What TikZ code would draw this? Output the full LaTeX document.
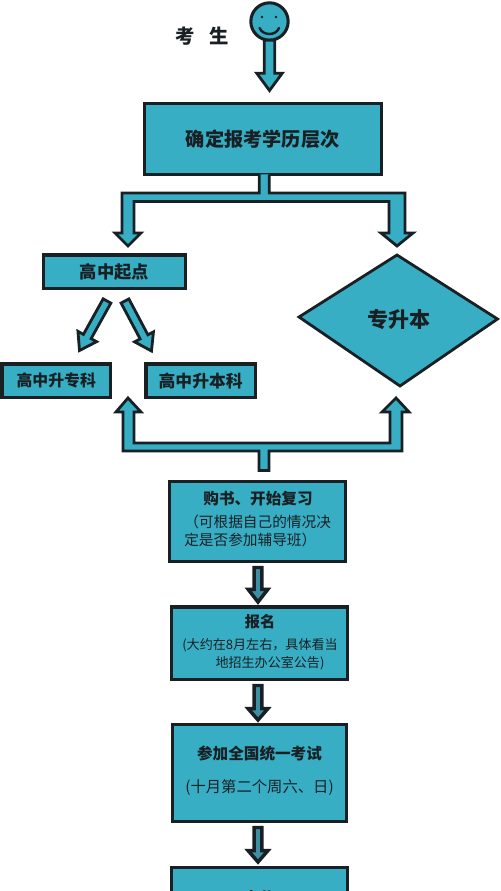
\documentclass[tikz,border=0pt]{standalone}
\usepackage{fontspec}
\usetikzlibrary{calc,shapes.geometric}
\setmainfont{Noto Sans CJK SC}
\definecolor{teal1}{RGB}{56,174,197}
\definecolor{teal2}{RGB}{62,143,163}
\definecolor{ink}{RGB}{24,32,36}
\tikzset{
  x=0.75pt,y=-0.75pt,
  boxshape/.style={draw=ink,line width=2.3pt,fill=teal1,text=ink,inner sep=0pt,outer sep=0pt,align=center,anchor=north west},
  shape line/.style={draw=ink,line width=2.1pt,fill=teal1,line join=miter},
  thick arrow/.style={draw=ink,line width=2.6pt,fill=teal2,line join=miter},
  inktext/.style={text=ink,inner sep=0pt},
}
% block arrow from coordinate #2 to coordinate #3; #4 half stem, #5 half head, #6 head length (pt)
\newcommand\blockarrow[6][shape line]{%
  \coordinate (ba) at ($(#3)!#6!(#2)$);
  \draw[#1] ($(#2)!#4!90:(#3)$) -- ($(ba)!#4!90:(#3)$) -- ($(ba)!#5!90:(#3)$) -- (#3)
    -- ($(ba)!#5!-90:(#3)$) -- ($(ba)!#4!-90:(#3)$) -- ($(#2)!#4!-90:(#3)$) -- cycle;
}
\begin{document}
\begin{tikzpicture}
\clip (0,0) rectangle (500,891);
\fill[white] (0,0) rectangle (500,891);

% smiley
\node[circle,minimum size=28pt,inner sep=0pt,outer sep=0pt,draw=ink,line width=2.3pt,fill=teal1] (face) at (269.5,21.5) {};
\fill[ink] (262,17) circle (1.1pt) (276,17) circle (1.1pt);
\draw[ink,line width=1.8pt,line cap=round] (259.5,28) .. controls (263,36) and (276,36) .. (279,28);
\node[inktext,font=\bfseries\fontsize{14.5pt}{16pt}\selectfont] (who) at (202,36) {考\hspace{0.75em}生};

% boxes
\node[boxshape,minimum width=177.4pt,minimum height=53.25pt,font=\bfseries\fontsize{14.4pt}{17pt}\selectfont] (level) at (144.5,103.5) {确定报考学历层次};
\node[boxshape,minimum width=106.5pt,minimum height=25pt,font=\bfseries\fontsize{13pt}{15pt}\selectfont] (high) at (43.5,255) {高中起点};
\node[boxshape,minimum width=81.4pt,minimum height=25pt,font=\bfseries\fontsize{11.9pt}{15pt}\selectfont] (zk) at (2,364) {高中升专科};
\node[boxshape,minimum width=82pt,minimum height=25pt,font=\bfseries\fontsize{12.6pt}{15pt}\selectfont] (bk) at (146,364) {高中升本科};
\coordinate (dl) at (299,317);
\coordinate (dt) at (397,255);
\coordinate (dr) at (497.5,319);
\coordinate (db) at (400,386);
\draw[shape line] (dl) -- (dt) -- (dr) -- (db) -- cycle;
\node[inktext,font=\bfseries\fontsize{15.75pt}{18pt}\selectfont] (zsb) at (398.5,320) {专升本};

\node[boxshape,minimum width=132pt,minimum height=60pt] (book) at (169.5,481.5) {};
\node[inktext,font=\bfseries\fontsize{11.7pt}{14pt}\selectfont] (book1) at (258,499) {购书、开始复习};
\node[inktext,font=\fontsize{11pt}{14pt}\selectfont,anchor=west] (book2) at (184,522) {（可根据自己的情况决};
\node[inktext,font=\fontsize{11pt}{14pt}\selectfont,anchor=west] (book3) at (184,540) {定是否参加辅导班）};

\node[boxshape,minimum width=132pt,minimum height=54.4pt] (sign) at (171.5,607) {};
\node[inktext,font=\bfseries\fontsize{11.4pt}{14pt}\selectfont] (sign1) at (260,622) {报名};
\node[inktext,font=\fontsize{9.8pt}{14pt}\selectfont] (sign2) at (260,645) {(大约在8月左右，具体看当};
\node[inktext,font=\fontsize{9.8pt}{14pt}\selectfont] (sign3) at (270,663) {地招生办公室公告)};

\node[boxshape,minimum width=130.5pt,minimum height=72.75pt] (exam) at (172.5,724.5) {};
\node[inktext,font=\bfseries\fontsize{11.7pt}{14pt}\selectfont] (exam1) at (259.5,754) {参加全国统一考试};
\node[inktext,font=\fontsize{11.5pt}{14pt}\selectfont] (exam2) at (259.5,788) {(十月第二个周六、日)};

\node[boxshape,minimum width=132pt,minimum height=60pt] (score) at (171.5,867.5) {};
\node[inktext,font=\bfseries\fontsize{11.4pt}{14pt}\selectfont] (score1) at (259,898) {查分};

% arrow from face
\coordinate (a0t) at (269.5,90.5);
\blockarrow{face.south}{a0t}{3.9pt}{9.6pt}{13pt}

% split T from level box
\coordinate (tl) at (128,246);
\coordinate (tr) at (397,246);
\draw[shape line] ($(level.south)+(-3.5,0)$) -- (259.3,193) -- (122,193) -- (122,233) -- (115,233) -- (tl)
  -- (141,233) -- (134,233) -- (134,201.5) -- (389,201.5) -- (389,233) -- (381,233) -- (tr)
  -- (413,233) -- (405,233) -- (405,193) -- (269.3,193) -- ($(level.south)+(6.5,0)$);

% diagonal arrows
\coordinate (hl1) at (107,301);
\coordinate (hl2) at (79.5,350.5);
\coordinate (hr1) at (125,301);
\coordinate (hr2) at (151.5,351);
\blockarrow{hl1}{hl2}{3.3pt}{8pt}{12pt}
\blockarrow{hr1}{hr2}{3.3pt}{8pt}{12pt}

% lower U
\coordinate (ul) at (128,398);
\coordinate (ur) at (396,398);
\coordinate (stub) at ($(book.north)+(6.5,-11)$);
\draw[shape line] ($(stub)+(-5,0)$) -- (259,451) -- (123,451) -- (123,412) -- (116,412) -- (ul)
  -- (141,412) -- (134,412) -- (134,443) -- (390,443) -- (390,412) -- (382,412) -- (ur)
  -- (409,412) -- (402,412) -- (402,451) -- (269,451) -- ($(stub)+(5,0)$) -- cycle;

% process arrows
\coordinate (p1) at (258,567.5);
\coordinate (p2) at (258,602);
\coordinate (q1) at (258,685.5);
\coordinate (q2) at (258,720);
\coordinate (r1) at (258,827.5);
\coordinate (r2) at (258,862);
\blockarrow[thick arrow]{p1}{p2}{2.9pt}{7.4pt}{9.5pt}
\blockarrow[thick arrow]{q1}{q2}{2.9pt}{7.4pt}{8.5pt}
\blockarrow[thick arrow]{r1}{r2}{2.9pt}{7.4pt}{8.5pt}
\end{tikzpicture}
\end{document}
